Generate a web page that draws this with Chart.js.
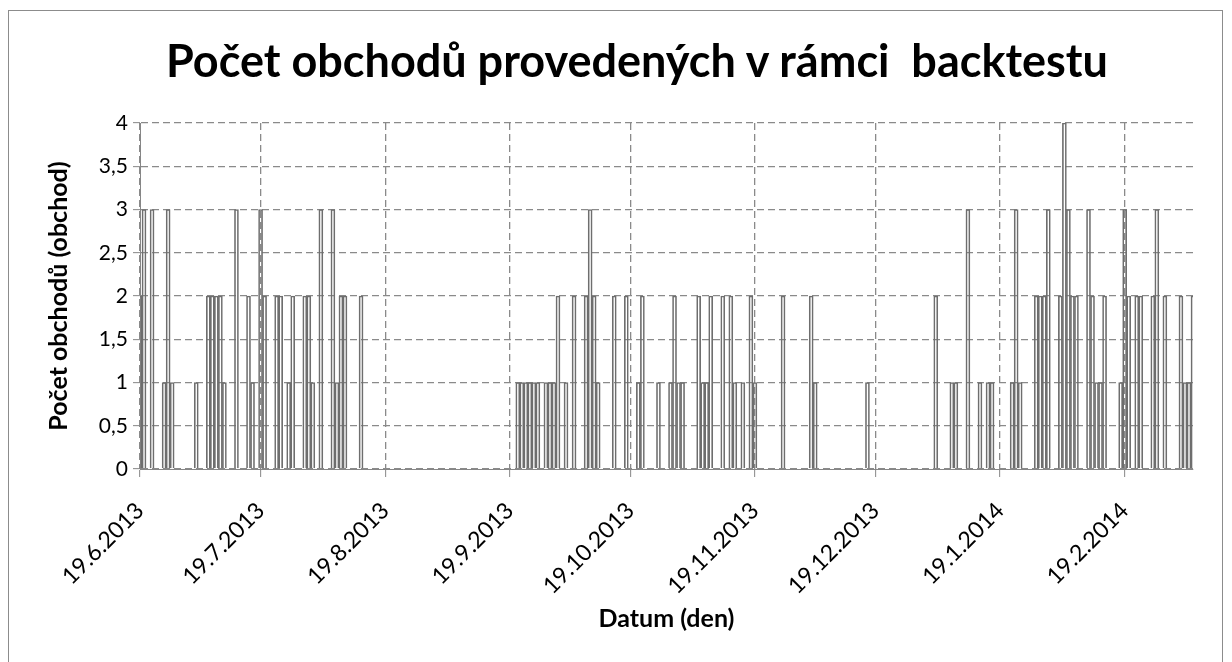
<!DOCTYPE html>
<html lang="cs">
<head>
<meta charset="utf-8">
<title>Počet obchodů provedených v rámci backtestu</title>
<script src="https://cdn.jsdelivr.net/npm/chart.js@4.4.1/dist/chart.umd.min.js"></script>
<style>
  html, body { margin: 0; padding: 0; background: #fff; }
  #wrap { position: relative; width: 1232px; height: 662px; overflow: hidden; }
  #frame { position: absolute; left: 8px; top: 10px; width: 1213px; height: 700px; border: 1.5px solid #8c8c8c; }
  #title { position: absolute; left: 0; top: 33px; width: 1274px; text-align: center;
           font: bold 45px Lato, sans-serif; line-height: 54px; color: #000; white-space: pre; }
  canvas { position: absolute; left: 0; top: 0; }
</style>
</head>
<body>
<div id="wrap">
  <div id="frame"></div>
  <canvas id="chart" width="1232" height="662"></canvas>
  <div id="title">Počet obchodů provedených v rámci  backtestu</div>
</div>
<script>
const firstDay = '19.6.2013';
const lastDay = '8.3.2014';

const monthTicks = ['19.6.2013', '19.7.2013', '19.8.2013', '19.9.2013', '19.10.2013',
  '19.11.2013', '19.12.2013', '19.1.2014', '19.2.2014'];

// days with at least one trade (every other day has 0)
const tradeDates = [
  '19.6.2013', '20.6.2013', '22.6.2013', '25.6.2013', '26.6.2013', '27.6.2013', '3.7.2013',
  '6.7.2013', '7.7.2013', '8.7.2013', '9.7.2013', '10.7.2013', '13.7.2013', '16.7.2013',
  '17.7.2013', '19.7.2013', '20.7.2013', '23.7.2013', '24.7.2013', '26.7.2013', '27.7.2013',
  '30.7.2013', '31.7.2013', '1.8.2013', '3.8.2013', '6.8.2013', '7.8.2013', '8.8.2013',
  '9.8.2013', '13.8.2013',
  '21.9.2013', '22.9.2013', '23.9.2013', '24.9.2013', '25.9.2013', '26.9.2013', '28.9.2013',
  '29.9.2013', '30.9.2013', '1.10.2013', '3.10.2013', '5.10.2013', '8.10.2013', '9.10.2013',
  '10.10.2013', '11.10.2013', '15.10.2013', '18.10.2013', '21.10.2013', '22.10.2013',
  '26.10.2013', '29.10.2013', '30.10.2013', '31.10.2013', '1.11.2013', '5.11.2013',
  '6.11.2013', '7.11.2013', '8.11.2013', '11.11.2013', '13.11.2013', '14.11.2013',
  '16.11.2013', '18.11.2013', '19.11.2013', '26.11.2013', '3.12.2013', '4.12.2013',
  '17.12.2013',
  '3.1.2014', '7.1.2014', '8.1.2014', '11.1.2014', '14.1.2014', '16.1.2014', '17.1.2014',
  '22.1.2014', '23.1.2014', '24.1.2014', '28.1.2014', '29.1.2014', '30.1.2014', '31.1.2014',
  '3.2.2014', '4.2.2014', '5.2.2014', '6.2.2014', '7.2.2014', '10.2.2014', '11.2.2014',
  '12.2.2014', '13.2.2014', '14.2.2014', '18.2.2014', '19.2.2014', '20.2.2014', '22.2.2014',
  '23.2.2014', '26.2.2014', '27.2.2014', '1.3.2014', '5.3.2014', '6.3.2014', '7.3.2014',
  '8.3.2014'
];
const tradeCounts = [
  2, 3, 3, 1, 3, 1, 1,
  2, 2, 2, 2, 1, 3, 2,
  1, 3, 2, 2, 2, 1, 2,
  2, 2, 1, 3, 3, 1, 2,
  2, 2,
  1, 1, 1, 1, 1, 1, 1,
  1, 1, 2, 1, 2, 2, 3,
  2, 1, 2, 2, 1, 2,
  1, 1, 2, 1, 1, 2,
  1, 1, 2, 2, 2, 1,
  1, 2, 1, 2, 2, 1,
  1,
  2, 1, 1, 3, 1, 1, 1,
  1, 3, 1, 2, 2, 2, 3,
  2, 4, 3, 2, 2, 3, 2,
  1, 1, 2, 1, 3, 2, 2,
  2, 2, 3, 2, 2, 1, 1,
  2
];

function parseDate(s) {
  const p = s.split('.');
  return new Date(+p[2], +p[1] - 1, +p[0]);
}
function formatDate(d) {
  return d.getDate() + '.' + (d.getMonth() + 1) + '.' + d.getFullYear();
}

const days = [];
for (let d = parseDate(firstDay); d <= parseDate(lastDay); d.setDate(d.getDate() + 1)) {
  days.push(formatDate(d));
}
const tradesPerDay = days.map(day => {
  const i = tradeDates.indexOf(day);
  return i === -1 ? 0 : tradeCounts[i];
});

const gridColor = '#8a8a8a';
const axisColor = '#868686';

new Chart(document.getElementById('chart'), {
  type: 'bar',
  data: {
    labels: days,
    datasets: [{
      label: 'Počet obchodů',
      data: tradesPerDay,
      backgroundColor: 'rgba(0,0,0,0)',
      borderColor: '#6e6e6e',
      borderWidth: 1,
      borderSkipped: 'start',
      barPercentage: 1,
      categoryPercentage: 1,
      clip: 0
    }]
  },
  options: {
    responsive: false,
    animation: false,
    devicePixelRatio: 1,
    layout: { padding: { left: 42, right: 39, top: 123, bottom: 20 } },
    plugins: {
      legend: { display: false },
      tooltip: { enabled: false }
    },
    scales: {
      x: {
        offset: false,
        afterBuildTicks: scale => {
          scale.ticks = scale.ticks.filter(t => monthTicks.includes(days[t.value]));
        },
        afterFit: scale => { scale.height = 173; },
        grid: { offset: false, color: gridColor, lineWidth: 1.3, tickLength: 8, tickColor: axisColor, tickWidth: 1 },
        border: { color: axisColor, width: 1, dash: [7, 4] },
        ticks: {
          autoSkip: false,
          minRotation: 45,
          maxRotation: 45,
          padding: 20,
          color: '#000',
          font: { family: 'Lato', size: 23 }
        },
        title: {
          display: true,
          text: 'Datum (den)',
          color: '#000',
          font: { family: 'Lato', size: 25, weight: 'bold' },
          padding: { top: 0, bottom: 8 }
        }
      },
      y: {
        min: 0,
        max: 4,
        afterFit: scale => { scale.width = 98; },
        grid: { color: gridColor, lineWidth: 1.3, tickLength: 7, tickColor: axisColor, tickWidth: 1 },
        border: { color: axisColor, width: 1, dash: [7, 4] },
        ticks: {
          stepSize: 0.5,
          padding: 5,
          color: '#000',
          font: { family: 'Lato', size: 21 },
          callback: v => String(v).replace('.', ',')
        },
        title: {
          display: true,
          text: 'Počet obchodů (obchod)',
          color: '#000',
          font: { family: 'Lato', size: 25, weight: 'bold' },
          padding: { top: 2, bottom: 0 }
        }
      }
    }
  }
});
</script>
</body>
</html>
